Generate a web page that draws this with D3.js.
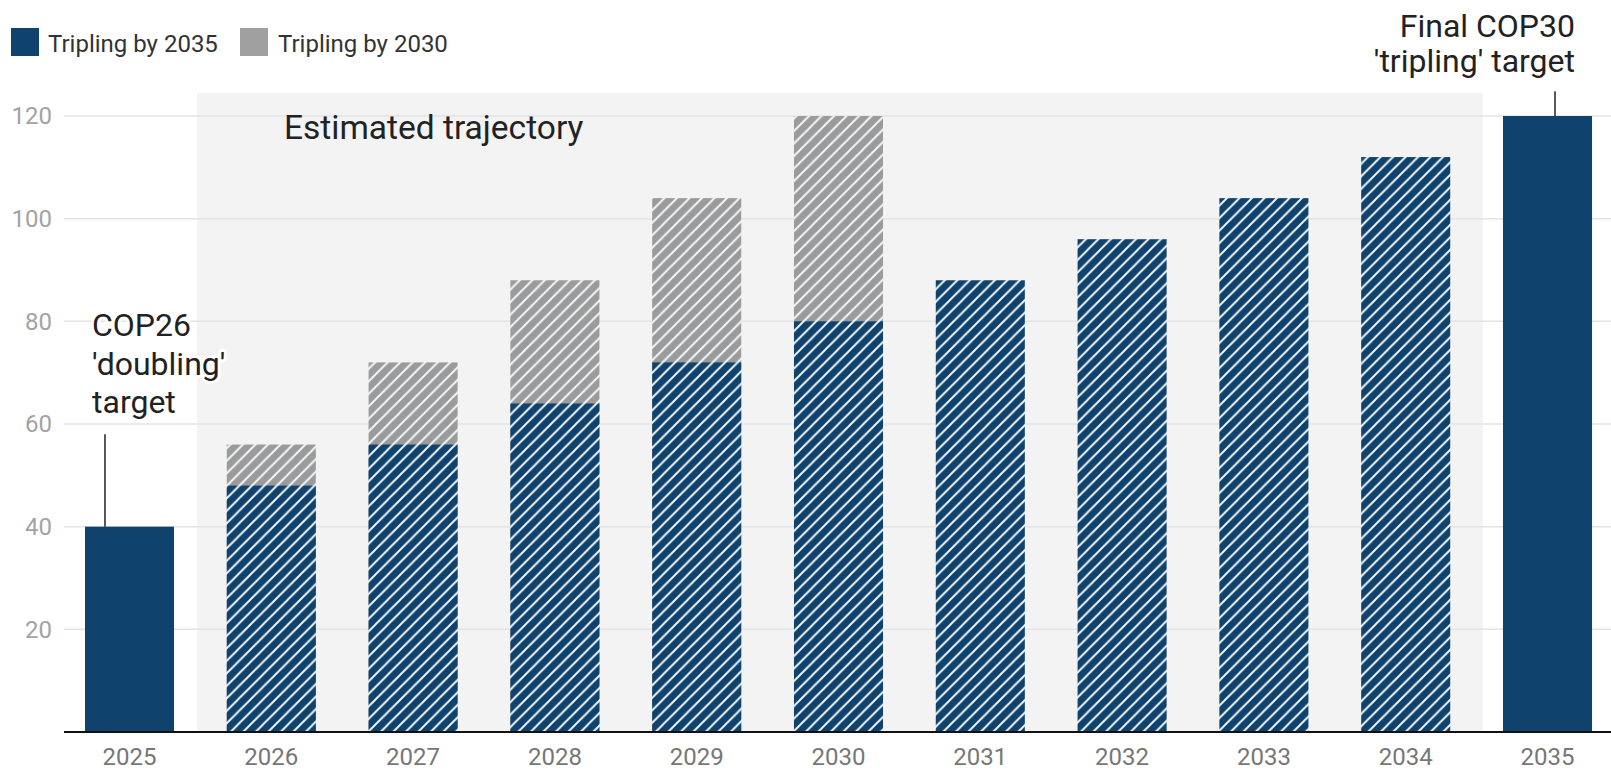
<!DOCTYPE html>
<html>
<head>
<meta charset="utf-8">
<script src="https://cdn.jsdelivr.net/npm/d3@7/dist/d3.min.js"></script>
<style>
  html, body { margin: 0; padding: 0; background: #fff; }
  svg { display: block; font-family: Roboto, "Noto Sans", sans-serif; }
</style>
</head>
<body>
<svg id="chart" width="1611" height="770"></svg>
<script>
// ---- data ----
const years = ["2025","2026","2027","2028","2029","2030","2031","2032","2033","2034","2035"];
const tripling2035 = [40, 48, 56, 64, 72, 80, 88, 96, 104, 112, 120];
const tripling2030 = [null, 56, 72, 88, 104, 120, null, null, null, null, null];
const estimatedYears = ["2026","2027","2028","2029","2030","2031","2032","2033","2034"];
const yTicks = [20, 40, 60, 80, 100, 120];
const seriesNames = ["Tripling by 2035", "Tripling by 2030"];

const W = 1611, H = 770;
const blue = "#0f426d", grey = "#9b9b9b";
const svg = d3.select("#chart");

const x = d3.scaleBand().domain(years).range([58.6, 1618.4]).paddingInner(0.372).paddingOuter(0.186);
const y = d3.scaleLinear().domain([0, 120]).range([732, 116]);
const bw = x.bandwidth(), step = x.step();

// patterns
const defs = svg.append("defs");
const P = 12.5;
function hatch(id, color) {
  const p = defs.append("pattern").attr("id", id).attr("patternUnits", "userSpaceOnUse")
    .attr("width", P).attr("height", P);
  p.append("rect").attr("width", P).attr("height", P).attr("fill", color);
  p.append("path").attr("d", `M-2,2 l4,-4 M0,${P} l${P},-${P} M${P-2},${P+2} l4,-4`)
    .attr("stroke", "#f4f8fb").attr("stroke-width", 1.9);
}
hatch("hb", blue);
hatch("hg", grey);

// estimated trajectory background
const bx0 = x(estimatedYears[0]) - 0.21 * step;
const bx1 = x(estimatedYears[estimatedYears.length - 1]) + bw + 0.23 * step;
svg.append("rect").attr("x", bx0).attr("y", y(124.5)).attr("width", bx1 - bx0)
  .attr("height", y(0) - y(124.5)).attr("fill", "#f3f3f3");

// gridlines
svg.append("g").selectAll("line").data(yTicks).join("line")
  .attr("x1", 64).attr("x2", W).attr("y1", d => y(d)).attr("y2", d => y(d))
  .attr("stroke", "#e4e4e4").attr("stroke-width", 1.5);

// y labels
svg.append("g").selectAll("text").data(yTicks).join("text")
  .attr("x", 52).attr("y", d => y(d)).attr("dy", "0.35em").attr("text-anchor", "end")
  .attr("font-size", 24).attr("fill", "#a3a3a3").text(d => d);

// grey bars (tripling by 2030)
svg.append("g").selectAll("rect").data(years.map((yr, i) => ({yr, v: tripling2030[i]})).filter(d => d.v != null))
  .join("rect")
  .attr("x", d => x(d.yr)).attr("width", bw)
  .attr("y", d => y(d.v)).attr("height", d => y(0) - y(d.v))
  .attr("fill", "url(#hg)");

// blue bars (tripling by 2035)
svg.append("g").selectAll("rect").data(years.map((yr, i) => ({yr, v: tripling2035[i]})))
  .join("rect")
  .attr("x", d => x(d.yr)).attr("width", bw)
  .attr("y", d => y(d.v)).attr("height", d => y(0) - y(d.v))
  .attr("fill", d => estimatedYears.includes(d.yr) ? "url(#hb)" : blue);

// x axis baseline
svg.append("line").attr("x1", 64).attr("x2", W).attr("y1", y(0)).attr("y2", y(0))
  .attr("stroke", "#111").attr("stroke-width", 2);

// x labels
svg.append("g").selectAll("text").data(years).join("text")
  .attr("x", d => x(d) + bw / 2).attr("y", 765).attr("text-anchor", "middle")
  .attr("font-size", 24).attr("fill", "#777").text(d => d);

// legend
const leg = svg.append("g");
[[11, 48, blue], [240, 278, "#a0a0a0"]].forEach((c, i) => {
  leg.append("rect").attr("x", c[0]).attr("y", 28).attr("width", 28).attr("height", 28).attr("fill", c[2]);
  leg.append("text").attr("x", c[1]).attr("y", 52).attr("font-size", 24).attr("fill", "#333").text(seriesNames[i]);
});

// annotations
svg.append("text").attr("x", 284).attr("y", 139).attr("font-size", 33.5).attr("fill", "#222")
  .text("Estimated trajectory");

const lx1 = x("2025") + 20;
svg.append("line").attr("x1", lx1).attr("x2", lx1).attr("y1", y(58)).attr("y2", y(tripling2035[0]))
  .attr("stroke", "#222").attr("stroke-width", 1.5);
const a1 = svg.append("text").attr("x", 92).attr("y", 336).attr("font-size", 32).attr("fill", "#222")
  .attr("stroke", "#fff").attr("stroke-width", 6).attr("stroke-linejoin", "round").attr("paint-order", "stroke");
["COP26", "'doubling'", "target"].forEach((t, i) => a1.append("tspan").attr("x", 92).attr("dy", i ? 38.5 : 0).text(t));

const lx2 = x("2035") + bw / 2 + 7.5;
svg.append("line").attr("x1", lx2).attr("x2", lx2).attr("y1", y(124.8)).attr("y2", y(tripling2035[10]))
  .attr("stroke", "#222").attr("stroke-width", 1.5);
const a2 = svg.append("text").attr("y", 37).attr("font-size", 32).attr("fill", "#222").attr("text-anchor", "end");
["Final COP30", "'tripling' target"].forEach((t, i) => a2.append("tspan").attr("x", 1575).attr("dy", i ? 35 : 0).text(t));
</script>
</body>
</html>
